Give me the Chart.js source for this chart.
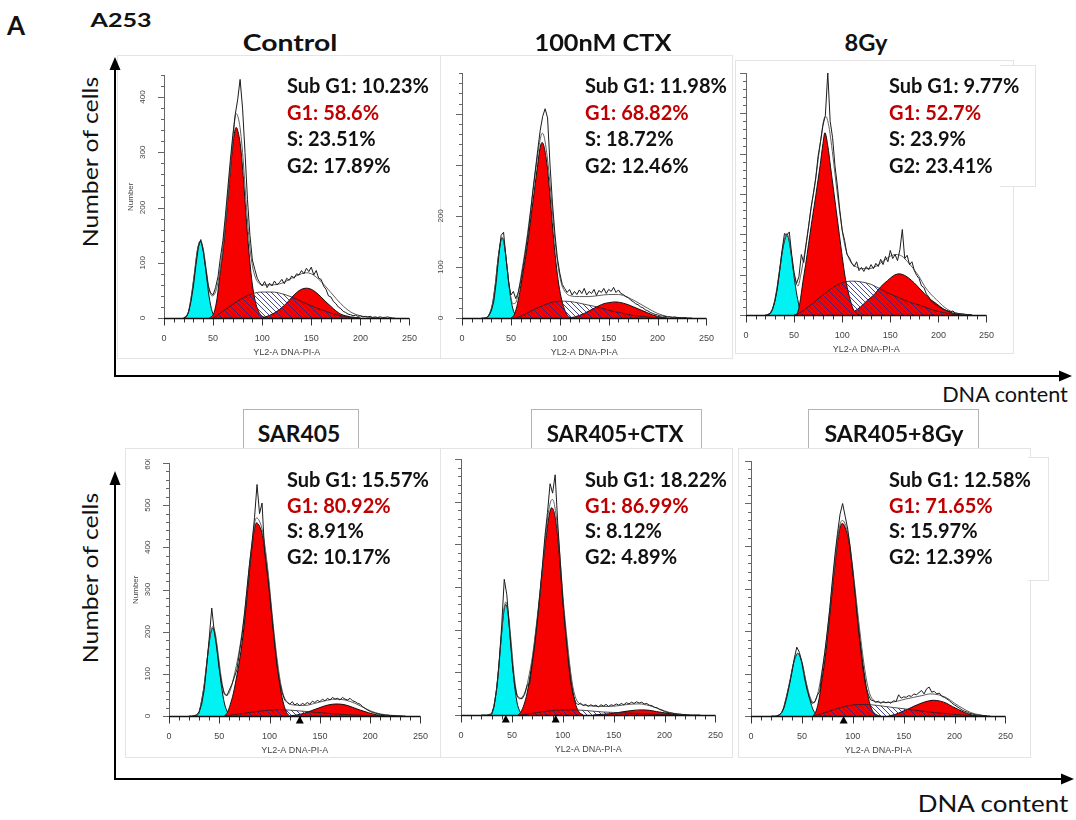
<!DOCTYPE html>
<html>
<head>
<meta charset="utf-8">
<script src="https://cdn.jsdelivr.net/npm/chart.js@4.4.1/dist/chart.umd.min.js"></script>
<style>
  html, body { margin: 0; padding: 0; background: #fff; }
  body { width: 1076px; height: 820px; position: relative; overflow: hidden; font-family: Lato, "Open Sans", sans-serif; color: #111; }
  .abs { position: absolute; white-space: nowrap; }
  .ctr { position: absolute; transform: translate(-50%, -50%); white-space: nowrap; line-height: 1; }
  .frame { position: absolute; background: #fff; border: 1px solid #e4e4e4; box-sizing: border-box; }
  .tbox { position: absolute; background: #fff; border: 1px solid #b4b4b4; box-sizing: border-box; }
  .pct { position: absolute; font-weight: 700; font-size: 20px; white-space: nowrap; }
</style>
</head>
<body>
<script>
// ---------- categories and labels ----------
const conditions = ['Control', '100nM CTX', '8Gy', 'SAR405', 'SAR405+CTX', 'SAR405+8Gy'];
const phaseNames = ['Sub G1', 'G1', 'S', 'G2'];
const xTickLabels = [0, 50, 100, 150, 200, 250];
const countAxisMax = [440, 480, 600, 600, 600, 600];
const ctrlYLabels = [0, 100, 200, 300, 400];
const ctxYLabels = [0, 100, 200];
const sarYLabels = [0, 100, 200, 300, 400, 500, 600];

// ---------- phase percentages ----------
const ctrlPct = [10.23, 58.6, 23.51, 17.89];
const ctxPct = [11.98, 68.82, 18.72, 12.46];
const gyPct = [9.77, 52.7, 23.9, 23.41];
const sarPct = [15.57, 80.92, 8.91, 10.17];
const sarCtxPct = [18.22, 86.99, 8.12, 4.89];
const sarGyPct = [12.58, 71.65, 15.97, 12.39];

// ---------- gate markers on the DNA axis ----------
const sarMarks = [130];
const sarCtxMarks = [44, 93];
const sarGyMarks = [91];

// ---------- modelled components [DNA-PI, count] ----------
const ctrlSub = [[20,0],[22,1],[25,12],[28,40],[31,80],[34,122],[37,139],[40,122],[43,80],[46,38],[49,12],[52,2],[55,0]];
const ctrlG1 = [[46,0],[48,2],[51,10],[54,35],[57,80],[60,120],[63,175],[66,235],[69,295],[72,338],[73.5,345],[75,340],[78,310],[81,250],[84,175],[87,110],[90,60],[93,30],[96,13],[99,5],[103,0]];
const ctrlS = [[50,0],[60,12],[70,25],[80,36],[90,44],[100,47],[110,47],[120,44],[130,38],[140,30],[150,22],[160,15],[170,9],[180,4],[190,1],[200,0]];
const ctrlG2 = [[95,0],[100,1],[105,3],[110,7],[115,12],[120,19],[125,27],[130,37],[135,46],[140,52],[145,54],[150,52],[155,46],[160,38],[165,29],[170,21],[175,13],[180,7],[185,4],[190,2],[195,1],[200,0]];
const ctrlFit = [[20,0],[25,12],[28,42],[31,82],[34,123],[37,140],[40,125],[43,88],[46,52],[49,40],[52,45],[55,65],[58,100],[61,145],[64,200],[67,262],[70,322],[73.5,370],[77,350],[80,300],[84,200],[87,135],[90,95],[93,74],[96,64],[100,60],[110,60],[120,63],[130,72],[140,80],[145,82],[150,80],[160,66],[170,46],[180,26],[190,11],[200,4],[210,1],[220,0]];

const ctxSub = [[25,0],[28,8],[31,26],[34,65],[37,118],[40,154],[41,157],[43,146],[46,101],[49,50],[52,18],[55,5],[58,0]];
const ctxG1 = [[50,0],[53,5],[56,22],[59,50],[62,85],[65,120],[68,160],[71,205],[74,250],[77,295],[80,335],[82,344],[84,335],[87,300],[90,240],[93,170],[96,110],[99,65],[102,35],[105,16],[108,5],[112,0]];
const ctxS = [[55,0],[65,8],[75,18],[85,26],[95,32],[105,33],[115,31],[125,27],[135,23],[145,18],[155,13],[165,9],[175,5],[185,3],[195,1],[205,0]];
const ctxG2 = [[110,0],[115,2],[120,5],[125,9],[130,14],[135,19],[140,24],[145,28],[150,30],[157,31.5],[165,29],[170,26],[175,22],[180,18],[185,14],[190,10],[195,6],[200,3],[205,1],[210,0]];
const ctxFit = [[25,0],[28,8],[31,26],[34,65],[37,118],[40,154],[41,158],[43,147],[46,102],[49,52],[52,28],[55,30],[58,55],[61,90],[64,125],[67,165],[70,210],[73,255],[76,300],[79,340],[82,362],[84,355],[87,318],[90,262],[93,195],[96,135],[99,92],[102,65],[106,50],[110,44],[120,42],[130,42],[140,44],[150,46],[160,46],[170,40],[180,30],[190,19],[200,9],[210,3],[220,1],[230,0]];

const gySub = [[22,0],[26,6],[29,25],[32,60],[35,110],[38,160],[41,192],[42.5,197],[44,192],[47,150],[50,95],[53,48],[56,15],[59,3],[62,0]];
const gyG1 = [[50,0],[53,3],[56,30],[59,80],[62,125],[65,175],[68,225],[71,272],[74,320],[77,370],[80,425],[82,452],[85,420],[88,365],[91,310],[94,255],[97,200],[100,145],[103,95],[106,60],[109,32],[112,12],[115,4],[118,0]];
const gyS = [[52,0],[60,12],[70,30],[80,50],[90,68],[100,80],[110,84],[120,82],[130,76],[140,64],[150,52],[160,42],[170,32],[180,25],[190,16],[200,9],[210,4],[220,1],[228,0]];
const gyG2 = [[105,0],[112,8],[119,20],[126,36],[133,50],[140,70],[147,85],[153,97],[159,102],[165,98],[172,86],[178,72],[185,54],[191,40],[198,28],[204,17],[211,8],[218,3],[225,0]];
const gyFit = [[22,0],[26,8],[29,28],[32,65],[35,115],[38,165],[41,196],[42.5,202],[45,185],[48,135],[51,88],[54,72],[57,100],[60,140],[63,185],[66,235],[69,285],[72,330],[75,385],[78,440],[81,485],[83,492],[86,470],[89,420],[92,360],[95,300],[98,245],[101,195],[104,160],[108,135],[113,122],[120,115],[128,115],[136,122],[144,136],[150,146],[156,150],[162,146],[168,132],[174,115],[180,95],[186,70],[192,52],[198,38],[204,24],[210,13],[218,5],[228,1],[235,0]];

const sarSub = [[25,0],[29,4],[32,31],[35,74],[38,135],[41,190],[43.5,208],[46,190],[49,135],[52,74],[55,31],[58,10],[61,2],[64,0]];
const sarG1 = [[55,0],[58,8],[61,28],[64,54],[67,90],[70,130],[73,180],[76,245],[79,320],[82,390],[85,445],[87,458],[90,450],[93,428],[96,380],[99,320],[102,244],[105,175],[108,115],[111,62],[114,28],[117,8],[120,0]];
const sarS = [[55,0],[70,5],[85,10],[100,14],[110,15],[120,14],[130,12],[140,10],[150,8],[160,6],[170,4],[180,3],[190,2],[200,1],[210,0]];
const sarG2 = [[120,0],[128,3],[135,7],[142,13],[150,20],[158,26],[166,28.5],[174,27],[182,21],[190,14],[198,8],[206,3],[214,1],[220,0]];
const sarFit = [[25,0],[29,4],[32,31],[35,74],[38,136],[41,192],[43.5,212],[46,196],[49,145],[52,90],[55,55],[58,50],[61,62],[64,88],[67,120],[70,158],[73,205],[76,265],[79,335],[82,400],[85,455],[87,470],[90,462],[93,438],[96,392],[99,330],[102,255],[105,185],[108,125],[111,78],[114,48],[118,32],[125,26],[135,25],[145,30],[155,36],[165,40],[175,38],[185,30],[195,18],[205,8],[215,3],[225,1],[232,0]];

const sarCtxSub = [[28,0],[30,2],[33,30],[36,83],[39,166],[42,241],[44,259],[46,241],[49,166],[52,83],[55,30],[58,8],[61,1],[64,0]];
const sarCtxG1 = [[56,0],[59,8],[62,25],[65,52],[68,95],[71,145],[74,205],[77,268],[80,340],[83,405],[86,460],[89,486],[92,470],[95,418],[98,330],[101,240],[104,170],[107,105],[110,55],[113,22],[116,7],[120,0]];
const sarCtxS = [[58,0],[70,4],[85,9],[100,12],[110,12],[120,11],[130,9],[140,7],[150,6],[160,5],[170,4],[180,3],[190,2],[200,1],[210,0]];
const sarCtxG2 = [[130,0],[140,2],[150,4],[160,8],[170,11],[177,12],[185,11],[192,8],[200,5],[208,2],[215,0]];
const sarCtxFit = [[28,0],[30,2],[33,30],[36,85],[39,168],[42,245],[44,265],[46,248],[49,178],[52,98],[55,48],[58,38],[61,45],[64,62],[67,95],[70,135],[73,190],[76,252],[79,320],[82,395],[85,460],[88,500],[90,505],[92,490],[95,435],[98,345],[101,255],[104,182],[107,115],[110,65],[113,38],[117,26],[125,22],[135,20],[145,20],[155,22],[165,25],[175,26],[185,22],[195,14],[205,6],[215,2],[225,0]];

const sarGySub = [[25,0],[28,3],[31,12],[34,37],[38,79],[42,126],[46,147],[50,126],[54,79],[58,37],[61,15],[64,4],[67,0]];
const sarGyG1 = [[61,0],[64,12],[67,42],[70,90],[73,140],[76,205],[79,275],[82,345],[85,410],[88,448],[90,453],[93,440],[96,413],[99,360],[102,296],[105,228],[108,162],[111,105],[114,58],[117,27],[120,10],[124,2],[127,0]];
const sarGyS = [[62,0],[70,6],[80,14],[90,21],[100,26],[110,27],[120,26],[130,23],[140,20],[150,17],[160,14],[170,11],[180,8],[190,6],[200,4],[210,2],[220,1],[230,0]];
const sarGyG2 = [[135,0],[142,4],[148,10],[154,16],[160,23],[166,29],[172,34],[179,37],[186,35],[192,30],[198,22],[204,15],[210,8],[216,3],[222,0]];
const sarGyFit = [[25,0],[28,3],[31,12],[34,38],[38,80],[42,127],[46,148],[50,128],[54,82],[58,45],[61,32],[64,40],[67,68],[70,110],[73,158],[76,220],[79,290],[82,355],[85,418],[88,455],[90,460],[93,448],[96,420],[99,368],[102,305],[105,240],[108,178],[111,122],[114,78],[117,50],[120,38],[128,32],[136,32],[144,35],[152,40],[160,44],[168,48],[176,52],[184,50],[192,43],[200,30],[208,18],[216,8],[224,3],[232,0]];

// ---------- acquired histograms: counts per 2.5-unit channel from 20 to 235 ----------
const rawStart = 20, rawStep = 2.5;
const ctrlRaw = [0,2,10,30,58,95,128,142,120,90, 58,45,42,55,75,110,140,185,235,285, 330,368,395,432,380,300,215,150,105,88, 72,64,58,66,55,63,58,67,60,64, 70,62,72,68,76,72,80,78,86,80, 90,84,92,78,86,72,70,58,52,40, 38,30,26,20,17,12,10,7,6,4, 5,3,4,2,3,2,3,1,2,1, 2,1,1,2,1,0,0];
const ctxRaw = [0,0,1,4,14,32,70,120,162,168, 118,72,45,52,38,50,72,100,132,165, 205,250,290,330,368,395,410,392,300,225, 165,118,88,66,58,50,56,45,52,46, 55,48,58,45,52,48,56,44,54,50, 58,48,56,52,60,50,55,48,46,42, 40,35,32,28,26,22,20,16,14,11, 9,7,6,4,4,3,2,2,1,2, 1,1,0,1,0,0,0];
const gyRaw = [0,1,4,14,34,65,110,160,202,198, 206,150,105,78,95,150,130,175,218,265, 300,340,395,430,470,495,600,480,440,370, 320,260,210,185,150,142,128,120,132,110, 118,108,120,112,125,115,128,120,138,125, 145,132,160,140,150,135,162,212,140,148, 125,132,110,98,90,72,68,52,45,35, 30,24,22,18,14,12,10,8,10,5, 4,3,3,2,1,1,0];
const sarRaw = [0,0,1,3,10,28,62,120,185,256, 200,160,110,75,52,48,62,75,92,110, 150,190,240,300,360,410,470,549,480,505, 390,340,290,230,170,115,80,55,38,32, 28,34,26,30,24,30,27,32,28,35, 32,37,34,40,36,42,38,44,40,42, 38,44,40,38,42,36,34,30,28,22, 18,14,11,8,7,5,4,3,2,2, 1,1,1,0,0,0,0];
const sarCtxRaw = [0,0,0,1,3,20,60,125,210,318, 282,205,130,75,45,40,38,48,70,74, 120,165,220,285,350,420,475,542,520,563, 450,360,270,200,135,80,48,30,24,28, 22,25,20,24,21,23,19,24,21,25, 20,24,22,26,23,27,24,29,26,30, 27,31,28,30,26,27,23,22,18,17, 13,11,8,6,5,4,3,2,2,1, 1,0,0,0,0,0,0];
const sarGyRaw = [0,0,0,2,8,20,42,70,100,135, 162,150,125,90,62,42,30,32,48,58, 105,150,200,255,320,380,430,475,500,470, 440,395,340,280,215,160,110,72,52,38, 36,32,35,30,34,31,33,30,36,34, 50,42,45,44,48,46,52,50,55,60, 52,64,68,56,58,52,54,46,44,40, 36,30,26,22,18,14,11,9,6,5, 3,2,2,1,1,0,0];

// ---------- page layout ----------
const panels = [
  { title: conditions[0], sub: ctrlSub, g1: ctrlG1, s: ctrlS, g2: ctrlG2, fit: ctrlFit, raw: ctrlRaw, pct: ctrlPct,
    yMax: countAxisMax[0], yLabels: ctrlYLabels, yTitle: true, marks: [],
    plot: { x0: 164, x1: 422, y0: 318, yTop: 75 }, titleAt: [290, 43, 94], textAt: [287, 72], lh: 26.5 },
  { title: conditions[1], sub: ctxSub, g1: ctxG1, s: ctxS, g2: ctxG2, fit: ctxFit, raw: ctxRaw, pct: ctxPct,
    yMax: countAxisMax[1], yLabels: ctxYLabels, yTitle: false, marks: [],
    plot: { x0: 462, x1: 719, y0: 318, yTop: 73 }, titleAt: [603, 43, 137], textAt: [585, 72], lh: 26.5 },
  { title: conditions[2], sub: gySub, g1: gyG1, s: gyS, g2: gyG2, fit: gyFit, raw: gyRaw, pct: gyPct,
    yMax: countAxisMax[2], yLabels: [], yTitle: false, marks: [],
    plot: { x0: 746, x1: 999, y0: 315, yTop: 73 }, titleAt: [866, 43, 43], textAt: [889, 72], lh: 26.5 },
  { title: conditions[3], sub: sarSub, g1: sarG1, s: sarS, g2: sarG2, fit: sarFit, raw: sarRaw, pct: sarPct,
    yMax: countAxisMax[3], yLabels: sarYLabels, yTitle: true, marks: sarMarks,
    plot: { x0: 169, x1: 433, y0: 716, yTop: 463 }, titleAt: [298.5, 434, 82], textAt: [287, 467], lh: 25.7,
    titleBox: [243, 409, 116, 42] },
  { title: conditions[4], sub: sarCtxSub, g1: sarCtxG1, s: sarCtxS, g2: sarCtxG2, fit: sarCtxFit, raw: sarCtxRaw, pct: sarCtxPct,
    yMax: countAxisMax[4], yLabels: [], yTitle: false, marks: sarCtxMarks,
    plot: { x0: 461, x1: 728, y0: 715, yTop: 459 }, titleAt: [614.5, 434, 137], textAt: [585, 467], lh: 25.7,
    titleBox: [531, 409, 171, 42] },
  { title: conditions[5], sub: sarGySub, g1: sarGyG1, s: sarGyS, g2: sarGyG2, fit: sarGyFit, raw: sarGyRaw, pct: sarGyPct,
    yMax: countAxisMax[5], yLabels: [], yTitle: false, marks: sarGyMarks,
    plot: { x0: 751, x1: 1018, y0: 716, yTop: 461 }, titleAt: [893.5, 434, 139], textAt: [889, 467], lh: 25.7,
    titleBox: [808, 409, 171, 42] }
];

// white picture frames behind each histogram
const frames = [
  [117, 55, 324, 304], [440, 55, 293, 304], [735, 60, 279, 294],
  [125, 448, 316, 310], [440, 448, 293, 310], [738, 448, 293, 310]
];

function el(tag, cls, css, text) {
  const e = document.createElement(tag);
  if (cls) e.className = cls;
  if (css) e.style.cssText = css;
  if (text !== undefined) e.textContent = text;
  document.body.appendChild(e);
  return e;
}

// centred caption stretched to a given width; `turn` rotates it to read upwards
function caption(text, cx, cy, width, size, weight, turn) {
  const e = el('div', 'ctr', `left:${cx}px;top:${cy}px;font-size:${size}px;font-weight:${weight};`, text);
  const k = width / e.offsetWidth;
  e.style.transform = `translate(-50%, -50%)${turn ? ' rotate(-90deg)' : ''} scaleX(${k})`;
  return e;
}

// title boxes of the lower row sit behind the frames
panels.forEach(p => {
  if (p.titleBox) {
    const [l, t, w, h] = p.titleBox;
    el('div', 'tbox', `left:${l}px;top:${t}px;width:${w}px;height:${h}px;`);
  }
});
frames.forEach(([l, t, w, h]) => el('div', 'frame', `left:${l}px;top:${t}px;width:${w}px;height:${h}px;`));
// percentage boxes reaching past the 8Gy frames
el('div', 'frame', 'left:1000px;top:65px;width:36px;height:122px;border-left:none;');
el('div', 'frame', 'left:1028px;top:457px;width:21px;height:124px;border-left:none;');

// ---------- drawing helpers ----------
const toPts = pairs => pairs.map(([x, y]) => ({ x, y }));
const rawPts = vals => vals.map((y, i) => ({ x: rawStart + i * rawStep, y }));

function hatchPattern() {
  const c = document.createElement('canvas');
  c.width = 5; c.height = 5;
  const g = c.getContext('2d');
  g.strokeStyle = 'rgba(38,40,140,0.95)';
  g.lineWidth = 0.9;
  g.beginPath();
  g.moveTo(0, 0); g.lineTo(5, 5);
  g.moveTo(-1, 4); g.lineTo(1, 6);
  g.moveTo(4, -1); g.lineTo(6, 1);
  g.stroke();
  return g.createPattern(c, 'repeat');
}
const hatch = hatchPattern();

// axis lines, tick marks, rotated count labels, axis captions and gate triangles
const axisMarks = {
  id: 'axisMarks',
  afterDatasetsDraw(chart, args, opts) {
    const { ctx, chartArea: a, scales: { x, y } } = chart;
    const y0 = Math.round(y.getPixelForValue(0)) + 0.5;
    ctx.save();
    ctx.lineWidth = 1;
    ctx.strokeStyle = '#666';
    ctx.beginPath();
    ctx.moveTo(a.left + 0.5, y0); ctx.lineTo(a.left + 0.5, a.top);
    y.ticks.forEach(t => {
      const py = Math.round(y.getPixelForValue(t.value)) + 0.5;
      const len = t.value % 100 === 0 ? 6 : 3;
      ctx.moveTo(a.left - len, py); ctx.lineTo(a.left, py);
    });
    ctx.stroke();

    ctx.strokeStyle = '#333';
    ctx.beginPath();
    x.ticks.forEach(t => {
      const px = Math.round(x.getPixelForValue(t.value)) + 0.5;
      const len = t.value % 50 === 0 ? 7 : 4;
      ctx.moveTo(px, y0); ctx.lineTo(px, y0 + len);
    });
    ctx.stroke();

    ctx.strokeStyle = '#111';
    ctx.lineWidth = 1.6;
    ctx.beginPath();
    ctx.moveTo(a.left, y0); ctx.lineTo(a.right, y0);
    ctx.stroke();

    ctx.fillStyle = '#444';
    ctx.textAlign = 'center';
    ctx.textBaseline = 'middle';
    ctx.font = '8px "Liberation Sans", Arial, sans-serif';
    opts.yLabels.forEach(v => {
      ctx.save();
      ctx.translate(a.left - 21, y.getPixelForValue(v));
      ctx.rotate(-Math.PI / 2);
      ctx.fillText(String(v), 0, 0);
      ctx.restore();
    });
    if (opts.yTitle) {
      ctx.save();
      ctx.translate(a.left - 33, (y0 + a.top) / 2);
      ctx.rotate(-Math.PI / 2);
      ctx.fillText('Number', 0, 0);
      ctx.restore();
    }
    ctx.font = '9px "Liberation Sans", Arial, sans-serif';
    ctx.fillText('YL2-A DNA-PI-A', (a.left + a.right) / 2, y0 + 34);

    ctx.fillStyle = '#000';
    opts.marks.forEach(m => {
      const px = x.getPixelForValue(m);
      ctx.beginPath();
      ctx.moveTo(px, y0 - 0.5);
      ctx.lineTo(px - 4, y0 + 7);
      ctx.lineTo(px + 4, y0 + 7);
      ctx.closePath();
      ctx.fill();
    });
    ctx.restore();
  }
};

const PAD_L = 44, PAD_R = 10, PAD_T = 4, PAD_B = 42;

panels.forEach(p => {
  const { x0, x1, y0, yTop } = p.plot;
  const w = (x1 - x0) + PAD_L + PAD_R;
  const h = (y0 - yTop) + PAD_T + PAD_B;
  const wrap = el('div', 'abs', `left:${x0 - PAD_L}px;top:${yTop - PAD_T}px;width:${w}px;height:${h}px;`);
  const cv = document.createElement('canvas');
  cv.width = w; cv.height = h;
  cv.style.width = w + 'px'; cv.style.height = h + 'px';
  wrap.appendChild(cv);

  const smooth = (data, extra) => Object.assign({
    data: toPts(data), pointRadius: 0, borderWidth: 1, borderColor: '#111',
    cubicInterpolationMode: 'monotone', fill: false
  }, extra);

  new Chart(cv, {
    type: 'line',
    data: {
      datasets: [
        { label: 'data', data: rawPts(p.raw), pointRadius: 0, borderWidth: 1, borderColor: '#1c1c1c', tension: 0, fill: false },
        smooth(p.fit, { label: 'fit', borderColor: '#5e5e5e' }),
        smooth(p.s, { label: 'S', fill: 'origin', backgroundColor: hatch, borderColor: '#222', borderWidth: 0.8 }),
        smooth(p.g1, { label: 'G1', fill: 'origin', backgroundColor: '#f60000' }),
        smooth(p.g2, { label: 'G2', fill: 'origin', backgroundColor: '#f60000' }),
        smooth(p.sub, { label: 'Sub G1', fill: 'origin', backgroundColor: '#00f2f2' })
      ]
    },
    options: {
      responsive: false,
      animation: false,
      devicePixelRatio: 1,
      layout: { padding: { left: 0, right: PAD_R, top: PAD_T, bottom: 0 } },
      plugins: {
        legend: { display: false },
        tooltip: { enabled: false },
        axisMarks: { yLabels: p.yLabels, yTitle: p.yTitle, marks: p.marks }
      },
      scales: {
        x: {
          type: 'linear', min: 0, max: 250,
          afterFit: s => { s.height = PAD_B; },
          border: { display: false },
          grid: { display: false, drawTicks: false },
          ticks: {
            stepSize: 10, autoSkip: false, maxRotation: 0, minRotation: 0, padding: 15,
            color: '#444', font: { size: 9, family: '"Liberation Sans", Arial, sans-serif' },
            callback: v => xTickLabels.includes(v) ? String(v) : ''
          }
        },
        y: {
          type: 'linear', min: 0, max: p.yMax,
          afterFit: s => { s.width = PAD_L; },
          border: { display: false },
          grid: { display: false, drawTicks: false },
          ticks: { stepSize: 20, display: false }
        }
      }
    },
    plugins: [axisMarks]
  });

  // condition title
  caption(p.title, p.titleAt[0], p.titleAt[1], p.titleAt[2], 22, 700, false);

  // phase percentages
  const [tx, ty] = p.textAt;
  p.pct.forEach((v, i) => {
    el('div', 'pct', `left:${tx}px;top:${ty + i * p.lh}px;line-height:${p.lh}px;color:${i === 1 ? '#c00000' : '#111'};`,
      `${phaseNames[i]}: ${v}%`);
  });
});

// figure lettering and shared axis captions
el('div', 'abs', 'left:7px;top:10px;font-size:26px;font-weight:700;line-height:30px;', 'A');
caption('A253', 120.5, 20, 61, 18.5, 700, false);
caption('Number of cells', 89, 162, 170, 21, 400, true);
caption('Number of cells', 89, 578, 170, 21, 400, true);
caption('DNA content', 1005, 394, 126, 22, 400, false);
caption('DNA content', 993, 803, 150, 23, 400, false);

// arrows framing each row
const svgNS = 'http://www.w3.org/2000/svg';
const svg = document.createElementNS(svgNS, 'svg');
svg.setAttribute('width', 1076); svg.setAttribute('height', 820);
svg.style.cssText = 'position:absolute;left:0;top:0;pointer-events:none;';
svg.innerHTML =
  '<g stroke="#000" stroke-width="2" fill="none">' +
  '<path d="M115 377 V68 M114 376 H1060"/>' +
  '<path d="M115 780 V484 M114 779 H1062"/></g>' +
  '<g fill="#000">' +
  '<polygon points="115,57 109.5,70 120.5,70"/>' +
  '<polygon points="1072,376 1059,370.5 1059,381.5"/>' +
  '<polygon points="115,471 109.5,485 120.5,485"/>' +
  '<polygon points="1074,779 1061,773.5 1061,784.5"/></g>';
document.body.appendChild(svg);
</script>
</body>
</html>
